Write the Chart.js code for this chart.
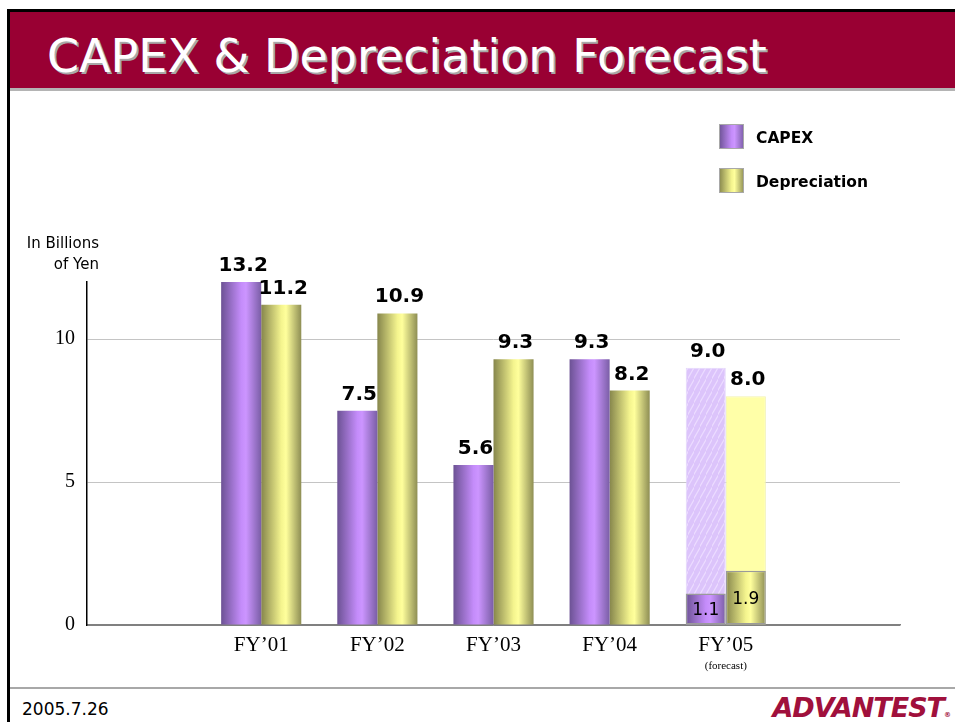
<!DOCTYPE html>
<html>
<head>
<meta charset="utf-8">
<script src="https://cdn.jsdelivr.net/npm/chart.js@4.4.1/dist/chart.umd.min.js"></script>
<style>
  body { margin: 0; width: 955px; height: 722px; background: #fff; position: relative; overflow: hidden; font-family: "DejaVu Sans", sans-serif; }
  #edgeLeft { position: absolute; left: 7px; top: 9px; width: 3px; height: 713px; background: #000; }
  #edgeTop { position: absolute; left: 7px; top: 9px; width: 948px; height: 3px; background: #000; }
  #banner { position: absolute; left: 10px; top: 12px; width: 945px; height: 76px; background: #990033; border-bottom: 3px solid #b4b4b4; }
  #title { position: absolute; left: 37px; top: 21px; font-size: 46px; line-height: 46px; color: #fff; text-shadow: 2px 2px 0 #a8a8a8; white-space: nowrap; }
  #footLine { position: absolute; left: 10px; top: 687px; width: 945px; height: 2px; background: #a8a8a8; }
  #date { position: absolute; left: 22px; top: 699px; font-size: 17px; color: #000; }
  #logo { position: absolute; right: 4px; top: 692px; font-size: 27px; font-weight: bold; font-style: italic; color: #a0103c; letter-spacing: -1px; }
  #logo small { font-size: 7px; font-style: normal; letter-spacing: 0; }
  #chartBox { position: absolute; left: 10px; top: 91px; width: 945px; height: 596px; }
</style>
</head>
<body>
<div id="edgeTop"></div>
<div id="banner"><div id="title">CAPEX &amp; Depreciation Forecast</div></div>
<div id="edgeLeft"></div>
<div id="chartBox"><canvas id="capexChart" width="945" height="596"></canvas></div>
<div id="footLine"></div>
<div id="date">2005.7.26</div>
<div id="logo">ADVANTEST<small>®</small></div>

<script>
// values (billions of yen)
const categories = ['', 'FY’01', 'FY’02', 'FY’03', 'FY’04', 'FY’05', ''];
const capex = [null, 13.2, 7.5, 5.6, 9.3, 1.1, null];
const depreciation = [null, 11.2, 10.9, 9.3, 8.2, 1.9, null];
const capexForecast = [null, null, null, null, null, 9.0, null];
const depreciationForecast = [null, null, null, null, null, 8.0, null];
const yTicks = [0, 5, 10];
const yMax = 12;
const unitNote = ['In Billions', 'of Yen'];
const forecastNote = '(forecast)';

const purpleShade = [[0, '#6c5294'], [0.5, '#c48cfa'], [0.62, '#cc95ff'], [1, '#7a5ea6']];
const yellowShade = [[0, '#86864c'], [0.5, '#f4f48e'], [0.62, '#ffff9c'], [1, '#8e8e54']];

// light hatched fill for the forecast CAPEX bar
function hatch() {
  const c = document.createElement('canvas');
  c.width = 6; c.height = 12;
  const g = c.getContext('2d');
  g.fillStyle = '#dcc4fb';
  g.fillRect(0, 0, 6, 12);
  g.strokeStyle = '#ecdcff';
  g.lineWidth = 1.2;
  g.beginPath(); g.moveTo(-1, 13); g.lineTo(7, -1); g.stroke();
  return g.createPattern(c, 'repeat');
}
const ctxCanvas = document.getElementById('capexChart');
const hatchFill = hatch();

function shadeOf(ctx, x0, x1, stops) {
  const g = ctx.createLinearGradient(x0, 0, x1, 0);
  stops.forEach(([s, col]) => g.addColorStop(s, col));
  return g;
}

// cylinder look for the solid bars
const cylinderPlugin = {
  id: 'cylinder',
  beforeDatasetsDraw(chart) {
    chart.data.datasets.forEach((ds, i) => {
      if (!ds.shade) return;
      chart.getDatasetMeta(i).data.forEach((el) => {
        const x0 = el.x - el.width / 2;
        el.options = Object.assign({}, el.options, { backgroundColor: shadeOf(chart.ctx, x0, x0 + el.width, ds.shade) });
      });
    });
  }
};

const labelPlugin = {
  id: 'valueLabels',
  afterDatasetsDraw(chart) {
    const c = chart.ctx;
    const area = chart.chartArea;
    c.save();
    c.fillStyle = '#000';
    c.textAlign = 'center';
    chart.data.datasets.forEach((ds, i) => {
      chart.getDatasetMeta(i).data.forEach((el, j) => {
        const v = ds.data[j];
        if (v == null) return;
        const inside = chart.data.datasets.some((o) => o !== ds && o.stack === ds.stack && o.data[j] != null && o.data[j] > v);
        if (inside) {
          c.font = '17px "DejaVu Sans"';
          c.textBaseline = 'middle';
          c.fillText(v.toFixed(1), el.x, (el.y + el.base) / 2 + 2);
        } else {
          c.font = 'bold 20px "DejaVu Sans"';
          c.textBaseline = 'alphabetic';
          c.fillText(v.toFixed(1), el.x + 2, Math.max(el.y, area.top) - 11);
        }
      });
    });
    // unit note above the value axis
    c.font = '15px "DejaVu Sans"';
    c.textAlign = 'right';
    c.textBaseline = 'middle';
    unitNote.forEach((t, k) => c.fillText(t, area.left + 12, 153 + k * 21));
    // forecast note under FY'05
    c.font = '11px "Liberation Serif"';
    c.textAlign = 'center';
    c.fillText(forecastNote, chart.scales.x.getPixelForValue(5), 575);
    // legend
    const boxes = chart.data.datasets.filter((d) => d.shade);
    boxes.forEach((d, k) => {
      const bx = 709, by = 33 + k * 44;
      c.fillStyle = shadeOf(c, bx, bx + 25, d.shade);
      c.fillRect(bx, by, 25, 25);
      c.strokeStyle = '#a8a8a8';
      c.lineWidth = 1;
      c.strokeRect(bx + 0.5, by + 0.5, 24, 24);
      c.fillStyle = '#000';
      c.font = 'bold 15.5px "DejaVu Sans"';
      c.textAlign = 'left';
      c.fillText(d.label, bx + 37, by + 15);
    });
    c.restore();
  }
};

const edgeFor = (arr) => (c) => arr[c.dataIndex] != null ? 1.5 : 0;

const data = {
  labels: categories,
  datasets: [
    { label: 'CAPEX', data: capex, stack: 'capex', order: 0, shade: purpleShade,
      backgroundColor: '#b080e8', borderColor: '#9a9a9a', borderWidth: edgeFor(capexForecast), borderSkipped: false },
    { label: 'Depreciation', data: depreciation, stack: 'dep', order: 0, shade: yellowShade,
      backgroundColor: '#e8e880', borderColor: '#9a9a9a', borderWidth: edgeFor(depreciationForecast), borderSkipped: false },
    { label: 'CAPEX forecast', data: capexForecast, stack: 'capex', order: 1,
      backgroundColor: hatchFill, borderColor: '#e4d6fb', borderWidth: 1 },
    { label: 'Depreciation forecast', data: depreciationForecast, stack: 'dep', order: 1,
      backgroundColor: '#ffffa8', borderColor: '#f2f2b0', borderWidth: 1 }
  ]
};

const config = {
  type: 'bar',
  data: data,
  options: {
    responsive: false,
    animation: false,
    devicePixelRatio: 1,
    categoryPercentage: 0.69,
    barPercentage: 1,
    layout: { padding: { top: 191, right: 55, bottom: 0, left: 0 } },
    plugins: { legend: { display: false }, tooltip: { enabled: false } },
    scales: {
      x: {
        stacked: true,
        grid: { display: false },
        border: { display: true, color: '#808080', width: 1.5 },
        ticks: { color: '#000', font: { family: 'Liberation Serif', size: 21 }, padding: 0, maxRotation: 0, autoSkip: false },
        afterFit(s) { s.height = 62; }
      },
      y: {
        stacked: false,
        min: 0,
        max: yMax,
        afterBuildTicks(s) { s.ticks = yTicks.map((v) => ({ value: v })); },
        grid: { drawTicks: false, color: (c) => c.tick && c.tick.value === 0 ? '#808080' : '#c4c4c4' },
        border: { display: true, color: '#000', width: 1.5 },
        ticks: { color: '#000', font: { family: 'Liberation Serif', size: 20 }, padding: 12 },
        afterFit(s) { s.width = 77; }
      }
    }
  },
  plugins: [cylinderPlugin, labelPlugin]
};

new Chart(ctxCanvas, config);
</script>
</body>
</html>
